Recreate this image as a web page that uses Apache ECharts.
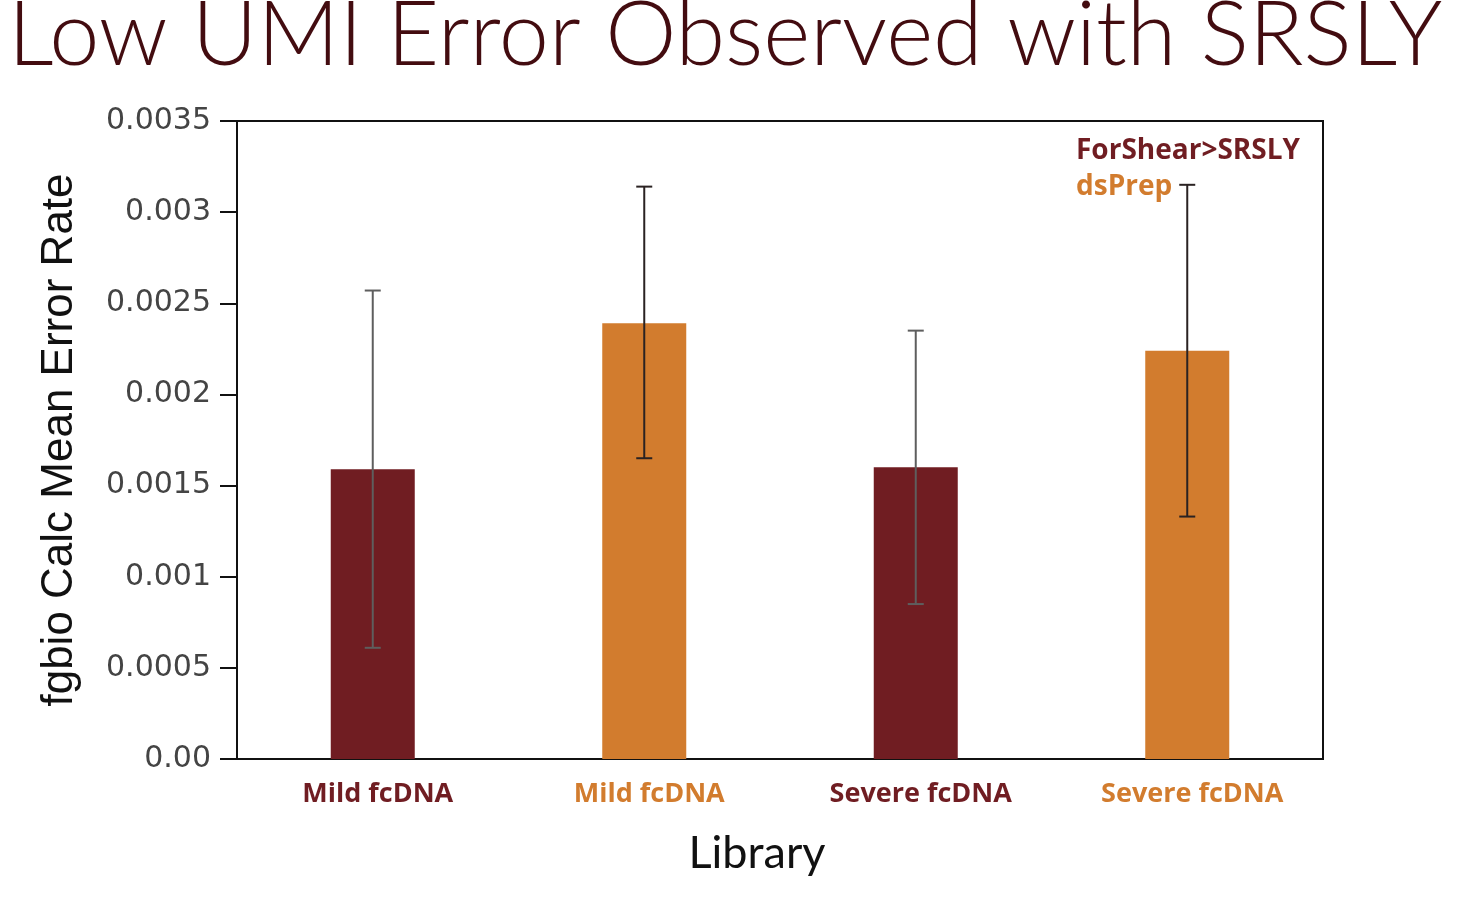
<!DOCTYPE html>
<html>
<head>
    <meta charset="utf-8">
    <script type="text/javascript" src="https://cdn.jsdelivr.net/npm/echarts@6/dist/echarts.min.js"></script>
    <style>
        html, body { margin: 0; padding: 0; background: #fff; }
    </style>
</head>
<body>
    <div id="main" style="width: 1458px;height:917px;"></div>
    <script type="text/javascript">
    // categories (two bars share a label, so keep keys unique)
    let categories = ['mild_srsly', 'mild_dsprep', 'severe_srsly', 'severe_dsprep']
    let categoryLabels = ['Mild fcDNA', 'Mild fcDNA', 'Severe fcDNA', 'Severe fcDNA']
    let yTickLabels = ['0.00', '0.0005', '0.001', '0.0015', '0.002', '0.0025', '0.003', '0.0035']

    // mean error rate per library
    let srslyValues = [0.00159, '-', 0.00160, '-']
    let dsprepValues = ['-', 0.00239, '-', 0.00224]
    // error bars: [category index, low, high]
    let srslyErr = [[0, 0.00061, 0.00257], [2, 0.00085, 0.00235]]
    let dsprepErr = [[1, 0.00165, 0.00314], [3, 0.00133, 0.00315]]

    let darkRed = '#701d22'
    let orange = '#d27c2e'
    let labelColors = [darkRed, orange, darkRed, orange]

    function errorBar(lineColor) {
        return function (params, api) {
            let x = api.value(0)
            let lo = api.coord([x, api.value(1)])
            let hi = api.coord([x, api.value(2)])
            let half = 8
            let style = { stroke: lineColor, lineWidth: 2 }
            return {
                type: 'group',
                children: [
                    { type: 'line', shape: { x1: hi[0], y1: hi[1], x2: lo[0], y2: lo[1] }, style: style },
                    { type: 'line', shape: { x1: hi[0] - half, y1: hi[1], x2: hi[0] + half, y2: hi[1] }, style: style },
                    { type: 'line', shape: { x1: lo[0] - half, y1: lo[1], x2: lo[0] + half, y2: lo[1] }, style: style }
                ]
            }
        }
    }

    var myChart = echarts.init(document.getElementById('main'))
    option = {
        backgroundColor: '#fff',
        animation: false,
        title: {
            text: 'Low UMI Error Observed with SRSLY',
            left: 8,
            top: -9,
            padding: 0,
            textStyle: {
                fontFamily: 'Lato',
                fontWeight: 300,
                fontSize: 90,
                color: '#430c10'
            }
        },
        legend: {
            orient: 'vertical',
            left: 1066,
            top: 131,
            itemWidth: 0,
            itemHeight: 10,
            itemGap: 6,
            icon: 'none',
            selectedMode: false,
            data: [
                { name: 'ForShear>SRSLY', textStyle: { color: darkRed } },
                { name: 'dsPrep', textStyle: { color: orange } }
            ],
            textStyle: {
                fontFamily: 'Open Sans',
                fontWeight: 'bold',
                fontSize: 28,
                lineHeight: 30
            }
        },
        grid: {
            left: 237,
            top: 121,
            right: 135,
            bottom: 158,
            show: true,
            borderColor: '#111',
            borderWidth: 2,
            backgroundColor: 'transparent'
        },
        xAxis: {
            type: 'category',
            data: categories,
            name: 'Library',
            nameLocation: 'middle',
            nameGap: 72,
            nameTextStyle: {
                fontFamily: 'Lato',
                fontSize: 45,
                color: '#111',
                padding: [0, 46, 0, 0]
            },
            axisLine: { lineStyle: { color: '#111', width: 2 } },
            axisTick: { show: false },
            axisLabel: {
                margin: 22,
                padding: [0, 0, 0, 10],
                fontFamily: 'Open Sans',
                fontWeight: 'bold',
                fontSize: 27,
                formatter: (v, i) => categoryLabels[i],
                color: (v, i) => labelColors[i]
            }
        },
        yAxis: {
            type: 'value',
            min: 0,
            max: 0.0035,
            interval: 0.0005,
            name: 'fgbio Calc Mean Error Rate',
            nameLocation: 'middle',
            nameGap: 155,
            nameTextStyle: {
                fontFamily: 'Liberation Sans',
                fontSize: 44,
                color: '#111'
            },
            splitLine: { show: false },
            axisLine: { show: true, lineStyle: { color: '#111', width: 2 } },
            axisTick: { show: true, length: 17, lineStyle: { color: '#111', width: 2 } },
            axisLabel: {
                margin: 26,
                fontFamily: 'DejaVu Sans',
                fontSize: 30,
                color: '#444',
                formatter: (v, i) => yTickLabels[i]
            }
        },
        series: [{
            name: 'ForShear>SRSLY',
            type: 'bar',
            barWidth: 84,
            barGap: '-100%',
            itemStyle: { color: darkRed },
            data: srslyValues
        }, {
            name: 'dsPrep',
            type: 'bar',
            barWidth: 84,
            barGap: '-100%',
            itemStyle: { color: orange },
            data: dsprepValues
        }, {
            name: 'srsly err',
            type: 'custom',
            renderItem: errorBar('#5e5e5e'),
            encode: { x: 0, y: [1, 2] },
            z: 10,
            data: srslyErr
        }, {
            name: 'dsprep err',
            type: 'custom',
            renderItem: errorBar('#2a2222'),
            encode: { x: 0, y: [1, 2] },
            z: 10,
            data: dsprepErr
        }]
    }
    myChart.setOption(option)
    </script>
</body>
</html>
